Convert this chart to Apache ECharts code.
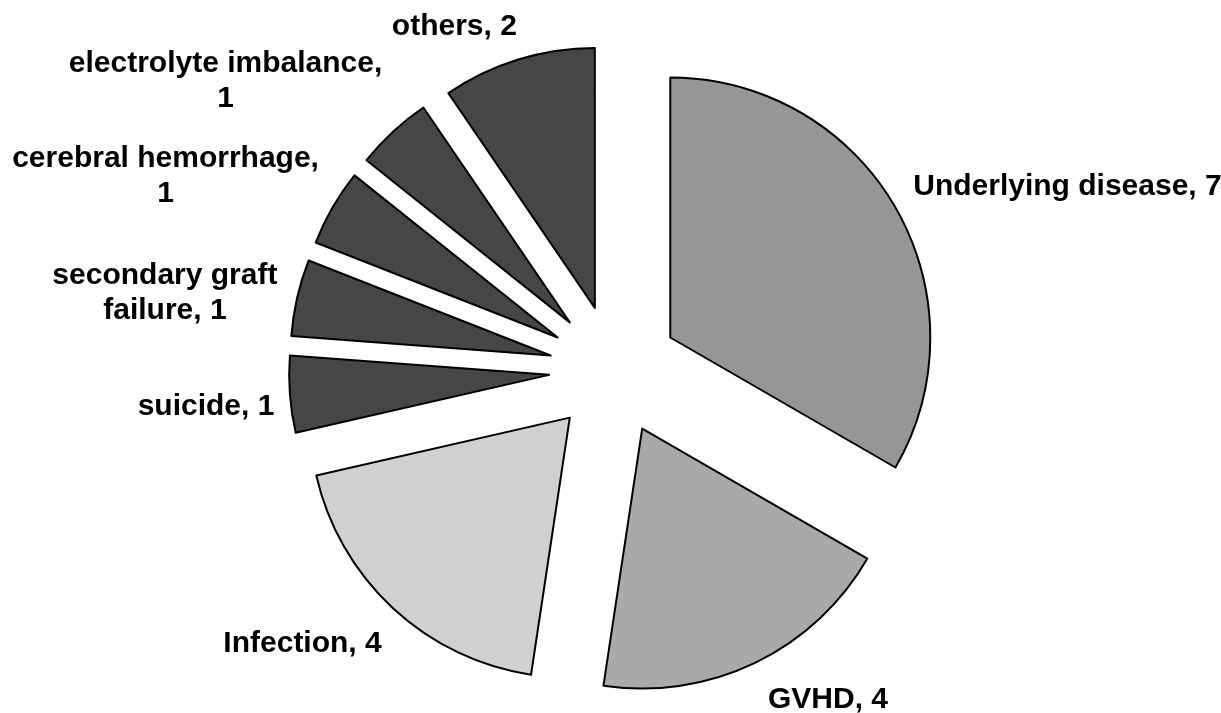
<!DOCTYPE html>
<html>
<head>
<meta charset="utf-8">
<script src="https://cdn.jsdelivr.net/npm/echarts@6/dist/echarts.min.js"></script>
<style>
  html, body { margin: 0; padding: 0; background: #fff; }
  #chart { width: 1221px; height: 713px; }
</style>
</head>
<body>
<div id="chart"></div>
<script>
var causes = ['Underlying disease', 'GVHD', 'Infection', 'suicide',
  'secondary graft failure', 'cerebral hemorrhage', 'electrolyte imbalance', 'others'];
var counts = [7, 4, 4, 1, 1, 1, 1, 2];
var labelTexts = ['Underlying disease, 7', 'GVHD, 4', 'Infection, 4', 'suicide, 1',
  'secondary graft\nfailure, 1', 'cerebral hemorrhage,\n1', 'electrolyte imbalance,\n1', 'others, 2'];
var fills = ['#969696', '#a9a9a9', '#d0d0d0', '#464646', '#464646', '#464646', '#464646', '#464646'];
// nudges from the default outside anchor to where the original put each label
var labelShift = [[141, -6], [55, 10], [-65, 14], [-49, 10], [-98, 2], [-136, -16], [-142, -29], [-50, -4]];

(function() {
  var chart = echarts.init(document.getElementById('chart'), null, { renderer: 'canvas' });
  var data = causes.map(function(name, i) {
    return {
      name: name,
      value: counts[i],
      selected: true,
      itemStyle: { color: fills[i] },
      label: { formatter: labelTexts[i] }
    };
  });
  chart.setOption({
    animation: false,
    series: [{
      type: 'pie',
      center: [614, 370],
      radius: [0, 260],
      startAngle: 90,
      clockwise: true,
      selectedMode: 'multiple',
      selectedOffset: 65,
      avoidLabelOverlap: false,
      itemStyle: { borderColor: '#000', borderWidth: 2 },
      label: {
        position: 'outside',
        color: '#000',
        fontFamily: 'Liberation Sans, Arial, sans-serif',
        fontWeight: 'bold',
        fontSize: 30,
        lineHeight: 35
      },
      labelLine: { show: false, length: 30, length2: 0 },
      labelLayout: function(p) {
        var s = labelShift[p.dataIndex];
        return { dx: s[0], dy: s[1], align: 'center', verticalAlign: 'middle' };
      },
      emphasis: { disabled: true },
      data: data
    }]
  });
})();
</script>
</body>
</html>
